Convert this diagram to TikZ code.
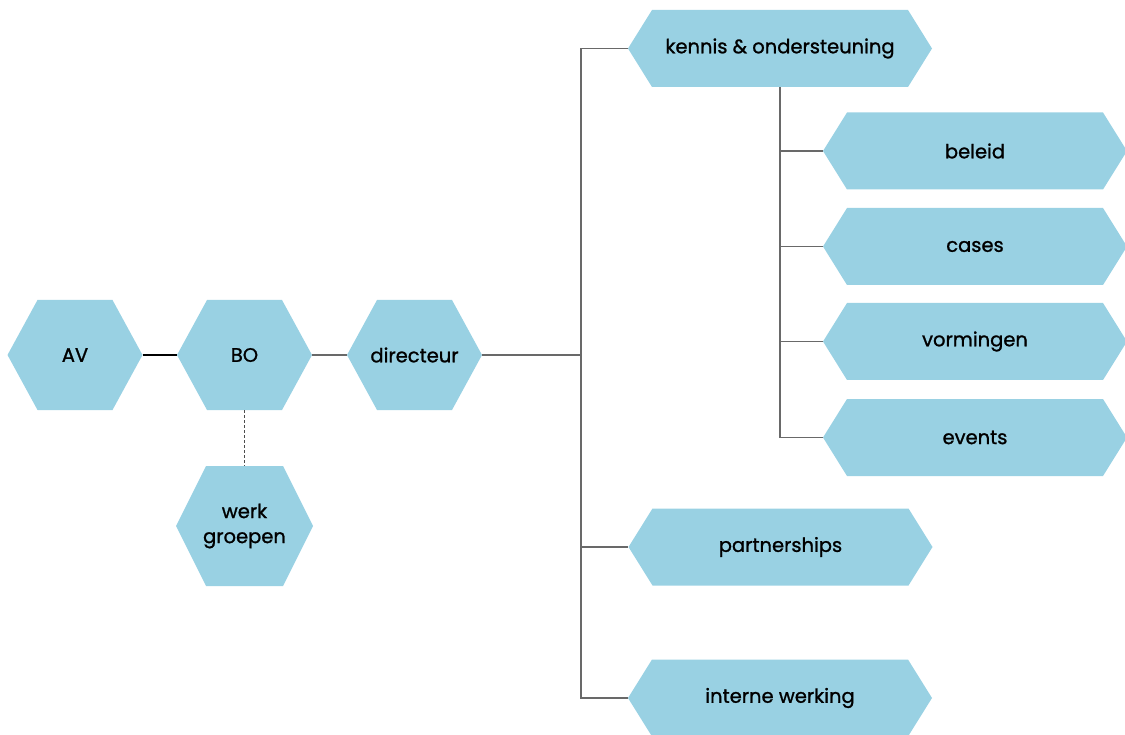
\documentclass[tikz,border=0pt]{standalone}
\usepackage{fontspec}
\setmainfont{Poppins}[FakeBold=1.1]
\definecolor{hexblue}{RGB}{153,209,227}
\definecolor{linegrey}{RGB}{105,105,105}

\begin{document}
\begin{tikzpicture}[x=1pt,y=-1pt,font=\fontsize{19.5}{25}\selectfont,
    hexbox/.style={shape=rectangle,inner sep=0pt,align=center,
      path picture={\fill[hexblue] (path picture bounding box.west)
        -- ([xshift=#1]path picture bounding box.north west)
        -- ([xshift=-#1]path picture bounding box.north east)
        -- (path picture bounding box.east)
        -- ([xshift=-#1]path picture bounding box.south east)
        -- ([xshift=#1]path picture bounding box.south west) -- cycle;}},
    hex/.style={hexbox=30pt,minimum width=135pt,minimum height=110pt},
    tag/.style={hexbox=24pt,minimum width=304pt,minimum height=77pt},
    link/.style={draw=linegrey,line width=1.5pt}]
    \useasboundingbox (0,0) rectangle (1125,735);
    \node[hex] (av) at (75,355) {AV};
    \node[hex] (bo) at (244.5,355) {BO};
    \node[hex] (dir) at (414.5,355) {directeur};
    \node[hex,minimum height=120pt,minimum width=137pt] (werk) at (244.5,526) {werk\\groepen};
    \node[tag] (kennis) at (780,48.5) {kennis \& ondersteuning};
    \node[tag] (beleid) at (975,151) {beleid};
    \node[tag] (cases) at (975,246.5) {cases};
    \node[tag] (vorm) at (975,341.5) {vormingen};
    \node[tag] (events) at (975,437.5) {events};
    \node[tag] (partner) at (780.5,547) {partnerships};
    \node[tag] (intern) at (780,698) {interne werking};
    \coordinate (hub) at (581,355);
    % lijnen
    \path[draw=black,line width=1.5pt] (av) -- (bo);
    \path[link] (bo) -- (dir);
    \path[draw=black!70,line width=1.5pt,densely dashed] (bo) -- (werk);
    \path[link] (dir) -- (hub);
    \path[link] (hub) |- (kennis.west);
    \path[link] (hub) |- (partner.west);
    \path[link] (hub) |- (intern.west);
    \path[link] (kennis.south) |- (beleid.west);
    \path[link] (kennis.south) |- (cases.west);
    \path[link] (kennis.south) |- (vorm.west);
    \path[link] (kennis.south) |- (events.west);
\end{tikzpicture}
\end{document}
